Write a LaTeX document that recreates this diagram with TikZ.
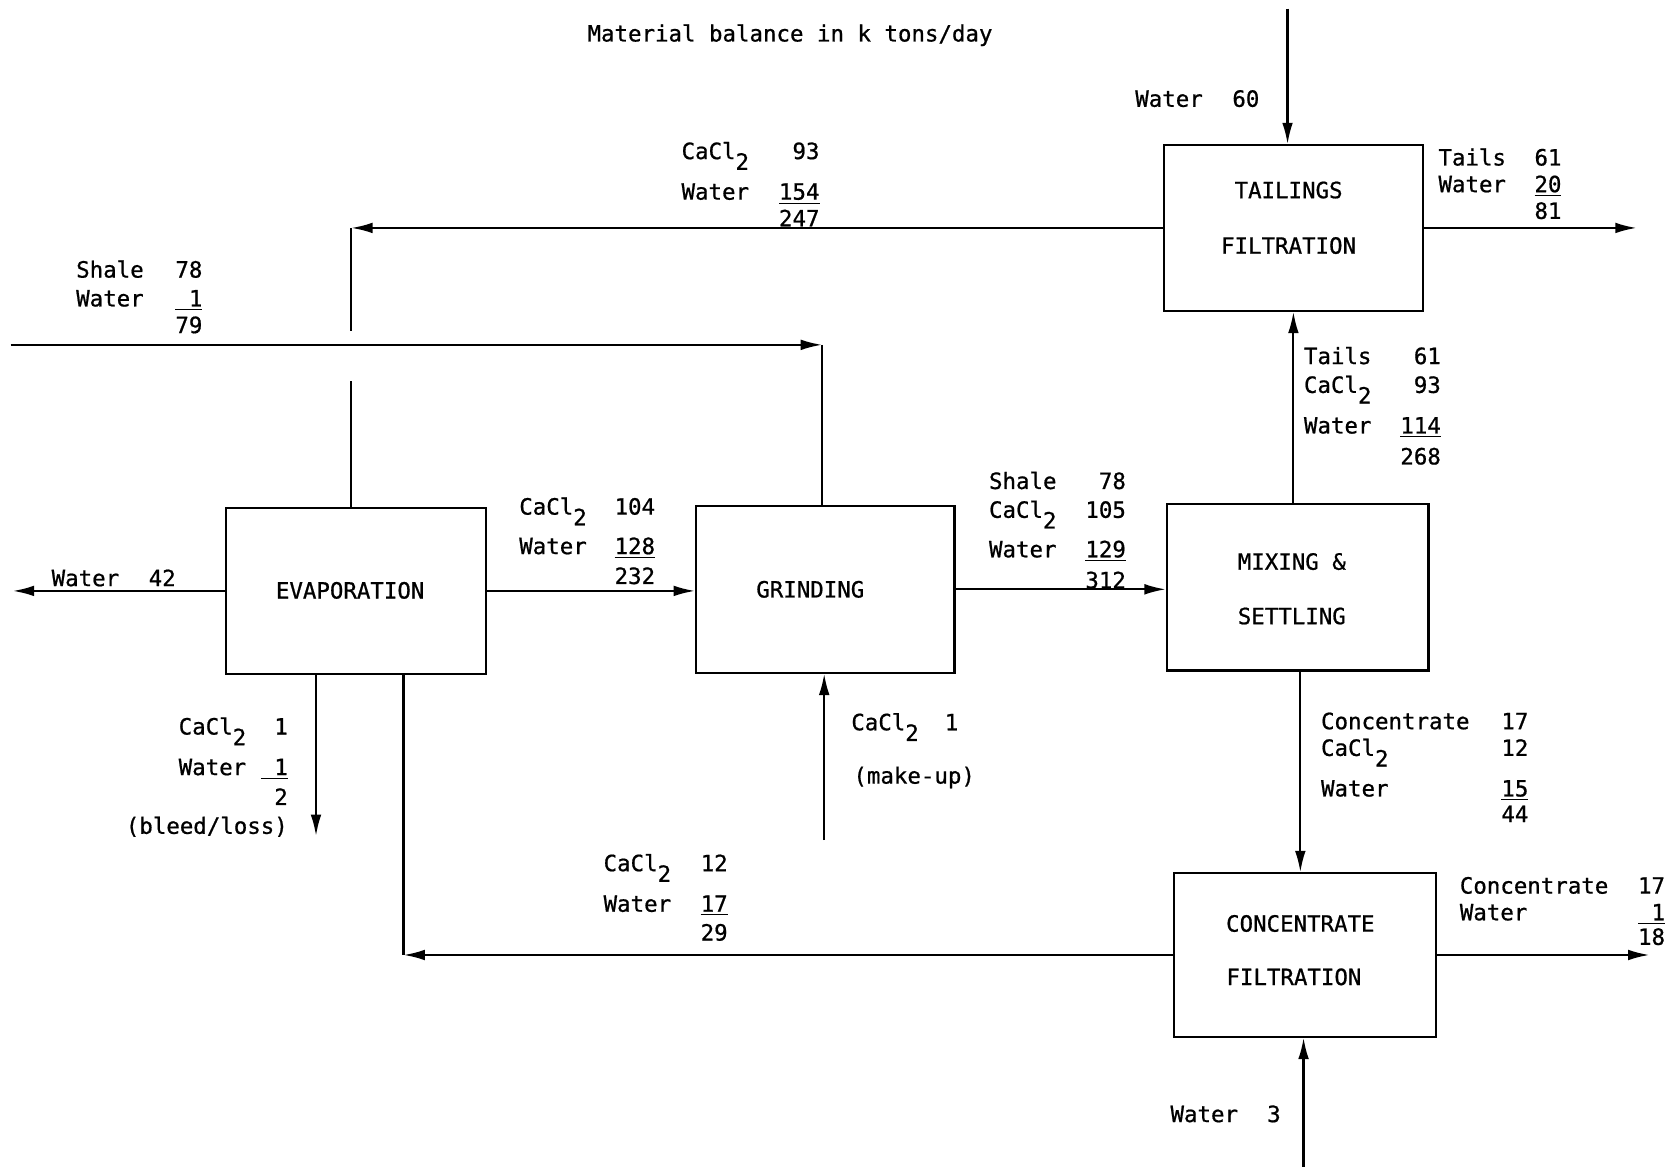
\documentclass[tikz,border=0pt]{standalone}
\usepackage{fontspec}
\newfontfamily\tw[FakeBold=0.8]{DejaVu Sans Mono}
\usetikzlibrary{arrows.meta}
\tikzset{
  box/.style={draw, line width=1pt, inner sep=0pt},
  flow/.style={line width=1pt},
  arr/.style={flow, -{Latex[length=10pt,width=5pt]}},
  txt/.style={font=\tw\fontsize{10.5}{12}\selectfont, inner sep=0pt},
}
\newcommand\cacl{CaCl\raisebox{-5pt}{2}}
\newcommand\ul[1]{\underline{#1}}
\newcommand\rw[6]{%
  \node[txt,anchor=base west] (#1l) at (#2,#4) {#5};
  \node[txt,anchor=base east] (#1r) at (#3,#4) {#6};}
\begin{document}
\begin{tikzpicture}[x=0.5pt,y=-0.5pt]
\useasboundingbox (0,0) rectangle (1568,1093);

% title
\node[txt] (title) at (740,33) {Material balance in k tons/day};

% boxes
\node[box, minimum width=121.5pt, minimum height=77.5pt] (E) at (333.5,553.5) {};
\node[box, minimum width=121pt,   minimum height=78pt]   (G) at (773,552) {};
\node[box, minimum width=122.5pt, minimum height=78pt]   (M) at (1215.5,550) {};
\node[box, minimum width=121.5pt, minimum height=77.5pt] (T) at (1211.5,213.5) {};
\node[box, minimum width=122.5pt, minimum height=76.5pt] (C) at (1222.5,894.5) {};

\node[txt] (Et) at (328,553) {EVAPORATION};
\node[txt] (Gt) at (759,552) {GRINDING};
\node[txt] (Mt1) at (1210,526) {MIXING \&};
\node[txt] (Mt2) at (1210,577) {SETTLING};
\node[txt] (Tt1) at (1207,178) {TAILINGS};
\node[txt] (Tt2) at (1207,230) {FILTRATION};
\node[txt] (Ct1) at (1218,865) {CONCENTRATE};
\node[txt] (Ct2) at (1212,915) {FILTRATION};

% free ends and corners
\coordinate (w42) at (12,556);
\coordinate (w60) at (1206,8);
\coordinate (tout) at (1533,213);
\coordinate (rc) at (329,213);
\coordinate (gapA) at (329,310);
\coordinate (gapB) at (329,357);
\coordinate (sh0) at (10,323);
\coordinate (sh1) at (770,323);
\coordinate (bl) at (296,783);
\coordinate (rc2) at (378,897);
\coordinate (mu) at (772,787);
\coordinate (mc) at (1218,0);
\coordinate (cout) at (1545,895);
\coordinate (w3) at (1221,1093);

% connectors
\draw[arr] (E.west) -- (E.west -| w42);
\draw[arr] (E.east) -- (E.east -| G.west);
\draw[arr] (G.east) -- (G.east -| M.west);
\draw[arr] (M.north -| T.south) -- (T.south);
\draw[arr] (w60) -- (w60 |- T.north);
\draw[arr] (T.east) -- (T.east -| tout);
\draw[arr] (T.west) -- (T.west -| rc);
\draw[flow] (T.west -| rc) -- (gapA);
\draw[flow] (gapB) -- (gapB |- E.north);
\draw[arr] (sh0) -- (sh1);
\draw[flow] (sh1) -- (sh1 |- G.north);
\draw[arr] (E.south -| bl) -- (bl);
\draw[arr] (C.west) -- (C.west -| rc2);
\draw[flow] (C.west -| rc2) -- (rc2 |- E.south);
\draw[arr] (mu) -- (mu |- G.south);
\draw[arr] (M.south -| mc) -- (C.north -| mc);
\draw[arr] (C.east) -- (C.east -| cout);
\draw[arr] (w3) -- (w3 |- C.south);

% labels
\rw{a1}{71}{190}{260}{Shale}{78}
\rw{a2}{71}{190}{287}{Water}{\ul{\phantom{0}1}}
\node[txt,anchor=base east] (a3r) at (190,312) {79};

\rw{b1}{638}{768}{149}{\cacl}{93}
\rw{b2}{638}{768}{187}{Water}{\ul{154}}
\node[txt,anchor=base east] (b3r) at (768,212) {247};

\rw{c1}{1347}{1463}{155}{Tails}{61}
\rw{c2}{1347}{1463}{180}{Water}{\ul{20}}
\node[txt,anchor=base east] (c3r) at (1463,205) {81};

\rw{d1}{1063}{1180}{100}{Water}{60}

\rw{e1}{1221}{1350}{341}{Tails}{61}
\rw{e2}{1221}{1350}{368}{\cacl}{93}
\rw{e3}{1221}{1350}{406}{Water}{\ul{114}}
\node[txt,anchor=base east] (e4r) at (1350,435) {268};

\rw{f1}{926}{1055}{458}{Shale}{78}
\rw{f2}{926}{1055}{485}{\cacl}{105}
\rw{f3}{926}{1055}{522}{Water}{\ul{129}}
\node[txt,anchor=base east] (f4r) at (1055,551) {312};

\rw{g1}{486}{614}{482}{\cacl}{104}
\rw{g2}{486}{614}{519}{Water}{\ul{128}}
\node[txt,anchor=base east] (g3r) at (614,547) {232};

\rw{h1}{48}{165}{549}{Water}{42}

\rw{i1}{167}{270}{688}{\cacl}{1}
\rw{i2}{167}{270}{726}{Water}{\ul{\phantom{0}1}}
\node[txt,anchor=base east] (i3r) at (270,754) {2};
\node[txt,anchor=base east] (i4r) at (270,781) {(bleed/loss)};

\rw{j1}{797}{898}{684}{\cacl}{1}
\node[txt,anchor=base west] (j2l) at (799,734) {(make-up)};

\rw{k1}{1237}{1432}{683}{Concentrate}{17}
\rw{k2}{1237}{1432}{708}{\cacl}{12}
\rw{k3}{1237}{1432}{746}{Water}{\ul{15}}
\node[txt,anchor=base east] (k4r) at (1432,770) {44};

\rw{m1}{565}{682}{816}{\cacl}{12}
\rw{m2}{565}{682}{854}{Water}{\ul{17}}
\node[txt,anchor=base east] (m3r) at (682,881) {29};

\rw{n1}{1367}{1560}{837}{Concentrate}{17}
\rw{n2}{1367}{1560}{862}{Water}{\ul{\phantom{0}1}}
\node[txt,anchor=base east] (n3r) at (1560,885) {18};

\rw{p1}{1096}{1200}{1051}{Water}{3}
\end{tikzpicture}
\end{document}
